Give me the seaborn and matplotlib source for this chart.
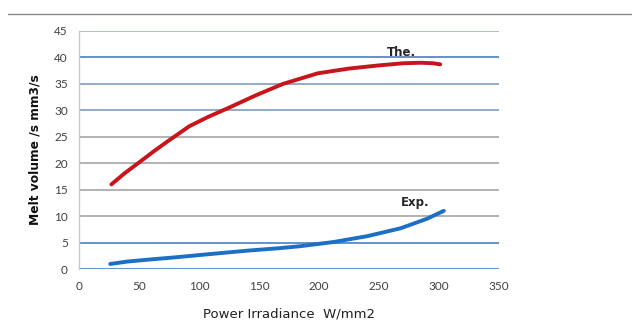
import matplotlib
matplotlib.use('Agg')
import matplotlib.pyplot as plt
import seaborn as sns
import pandas as pd

# values
power_the = [27, 38, 51, 62, 73, 92, 108, 123, 148, 170, 199, 225, 250, 270, 285, 295, 301]
melt_the = [16.0, 18.1, 20.3, 22.2, 24.0, 27.0, 28.8, 30.3, 32.9, 35.0, 37.0, 37.9, 38.5, 38.9, 39.0, 38.9, 38.7]
power_exp = [26, 40, 59, 80, 101, 120, 142, 165, 184, 212, 240, 268, 290, 304]
melt_exp = [0.95, 1.4, 1.8, 2.2, 2.65, 3.05, 3.5, 3.9, 4.3, 5.1, 6.2, 7.7, 9.5, 11.0]
y_ticks = [0, 5, 10, 15, 20, 25, 30, 35, 40, 45]
x_ticks = [0, 50, 100, 150, 200, 250, 300, 350]
# gridline colours as seen in the scan (bottom to top)
grid_colors = ['#4a7fc1', '#4a7fc1', '#a6a6a6', '#a6a6a6', '#a6a6a6', '#a6a6a6',
               '#7f9cc0', '#7f9cc0', '#4a7fc1', '#9fb2c8']

df = pd.concat([
    pd.DataFrame({'power': power_the, 'melt': melt_the, 'series': 'The.'}),
    pd.DataFrame({'power': power_exp, 'melt': melt_exp, 'series': 'Exp.'}),
])

sns.set_style('white')
fig = plt.figure(figsize=(6.32, 3.36), dpi=100)
ax = fig.add_axes([79 / 632, 67 / 336, 420 / 632, 238 / 336])

for yv, c in zip(y_ticks, grid_colors):
    ax.axhline(yv, color=c, lw=1.2, zorder=1)

sns.lineplot(data=df, x='power', y='melt', hue='series',
             palette={'The.': '#c8141a', 'Exp.': '#1b70c6'},
             linewidth=2.8, legend=False, ax=ax, zorder=3)

ax.set_xlim(0, 350)
ax.set_ylim(0, 45)
ax.set_xticks(x_ticks)
ax.set_yticks(y_ticks)
ax.tick_params(axis='both', length=0, labelsize=8.5, labelcolor='#404040')
ax.tick_params(axis='y', pad=8)
ax.tick_params(axis='x', pad=9)
for lab in ax.get_xticklabels() + ax.get_yticklabels():
    lab.set_family('Lato')

for s in ['top', 'right', 'bottom']:
    ax.spines[s].set_visible(False)
ax.spines['left'].set_color('#c8c8c8')
ax.spines['left'].set_linewidth(1)

ax.set_xlabel('Power Irradiance  W/mm2', fontsize=9.5, color='#202020', labelpad=11,
              family='DejaVu Sans')
ax.set_ylabel('Melt volume /s mm3/s', fontsize=8.8, fontweight='bold', color='#101010',
              labelpad=9, family='DejaVu Sans')

ax.text(269, 41.0, 'The.', fontsize=8.5, fontweight='bold', ha='center', va='center')
ax.text(280, 12.5, 'Exp.', fontsize=8.5, fontweight='bold', ha='center', va='center')

# thin rule across the top of the page
fig.add_artist(plt.Line2D([8 / 632, 1], [1 - 14 / 336, 1 - 14 / 336],
                          color='#8a8a8a', lw=1.0))

fig.savefig('out.png', dpi=100)
